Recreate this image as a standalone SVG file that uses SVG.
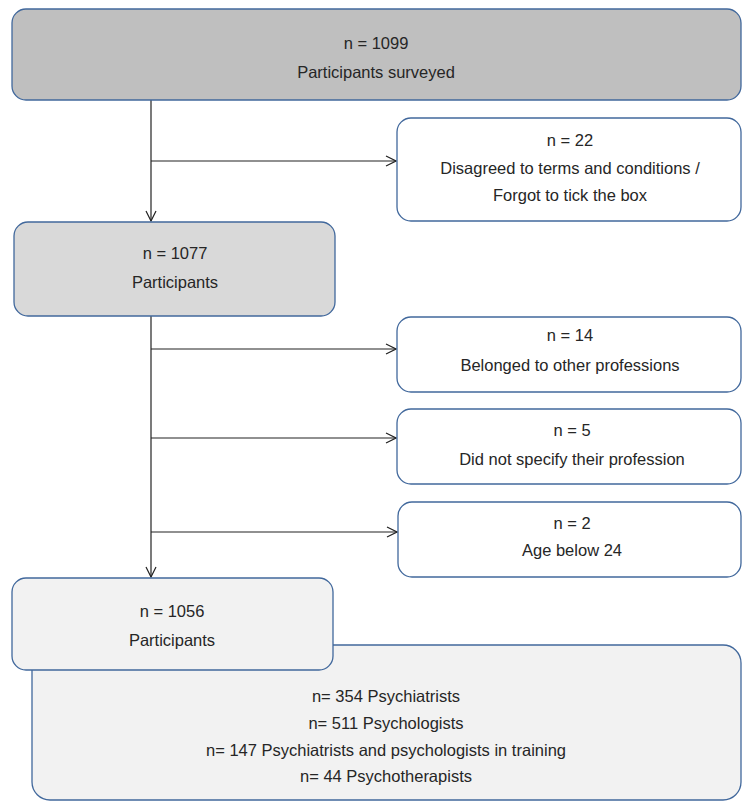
<svg xmlns="http://www.w3.org/2000/svg" width="742" height="803" viewBox="0 0 742 803">
<style>
.box{stroke:#41689c;stroke-width:1.3}
.t{font-family:"Liberation Sans",Arial,sans-serif;font-size:16.5px;fill:#262626;text-anchor:middle}
.c{stroke:#222;stroke-width:1.2;fill:none}
</style>
<defs>
<marker id="arr" viewBox="0 0 12 12" refX="11" refY="6" markerWidth="12" markerHeight="12" markerUnits="userSpaceOnUse" orient="auto">
<path d="M1,1 L11,6 L1,11" fill="none" stroke="#222" stroke-width="1.2"/>
</marker>
</defs>
<rect width="742" height="803" fill="#fff"/>
<g id="connectors">
<path class="c" d="M151,100 V221" marker-end="url(#arr)"/>
<path class="c" d="M151,161 H396" marker-end="url(#arr)"/>
<path class="c" d="M151,316 V577" marker-end="url(#arr)"/>
<path class="c" d="M151,349 H396" marker-end="url(#arr)"/>
<path class="c" d="M151,438 H396" marker-end="url(#arr)"/>
<path class="c" d="M151,532 H397" marker-end="url(#arr)"/>
</g>
<g id="n1099">
<rect class="box" x="12" y="9" width="729" height="91" rx="14" fill="#bfbfbf"/>
<text class="t" x="376" y="49">n = 1099</text>
<text class="t" x="376" y="78">Participants surveyed</text>
</g>
<g id="n22">
<rect class="box" x="397" y="118" width="344" height="103" rx="14" fill="#fff"/>
<text class="t" x="570" y="146">n = 22</text>
<text class="t" x="570" y="174">Disagreed to terms and conditions /</text>
<text class="t" x="570" y="201">Forgot to tick the box</text>
</g>
<g id="n1077">
<rect class="box" x="14" y="222" width="321" height="94" rx="14" fill="#d9d9d9"/>
<text class="t" x="175" y="259">n = 1077</text>
<text class="t" x="175" y="288">Participants</text>
</g>
<g id="n14">
<rect class="box" x="397" y="317" width="344" height="75" rx="14" fill="#fff"/>
<text class="t" x="570" y="341">n = 14</text>
<text class="t" x="570" y="371">Belonged to other professions</text>
</g>
<g id="n5">
<rect class="box" x="397" y="409" width="344" height="75" rx="14" fill="#fff"/>
<text class="t" x="572" y="436">n = 5</text>
<text class="t" x="572" y="465">Did not specify their profession</text>
</g>
<g id="n2">
<rect class="box" x="398" y="502" width="343" height="75" rx="14" fill="#fff"/>
<text class="t" x="572" y="529">n = 2</text>
<text class="t" x="572" y="556">Age below 24</text>
</g>
<g id="breakdown">
<rect class="box" x="32" y="645" width="709" height="155" rx="18" fill="#f2f2f2"/>
<text class="t" x="386" y="702">n= 354 Psychiatrists</text>
<text class="t" x="386" y="729">n= 511 Psychologists</text>
<text class="t" x="386" y="756">n= 147 Psychiatrists and psychologists in training</text>
<text class="t" x="386" y="782">n= 44 Psychotherapists</text>
</g>
<g id="n1056">
<rect class="box" x="12" y="578" width="321" height="92" rx="14" fill="#f2f2f2"/>
<text class="t" x="172" y="617">n = 1056</text>
<text class="t" x="172" y="646">Participants</text>
</g>
</svg>
